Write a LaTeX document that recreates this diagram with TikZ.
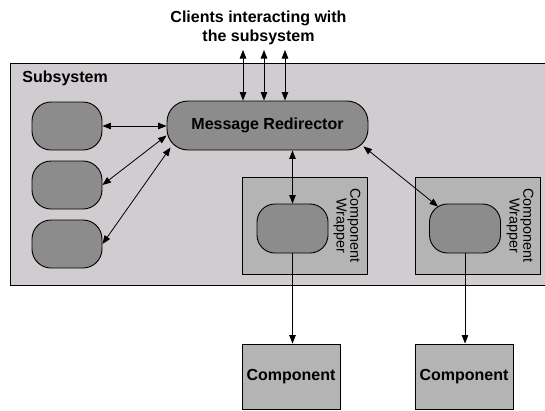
\documentclass[tikz,border=0pt]{standalone}
\usepackage{fontspec}
\setmainfont{Liberation Sans}
\usepackage{tikz}
\usetikzlibrary{arrows.meta}
\definecolor{subfill}{HTML}{D0CCD0}
\definecolor{wrapfill}{HTML}{B4B4B4}
\definecolor{pillfill}{HTML}{8C8C8C}
\begin{document}
\begin{tikzpicture}[x=1pt, y=-1pt, line width=0.9pt,
pill/.style={draw, fill=pillfill, rounded corners=19pt, inner sep=0pt, minimum width=70pt, minimum height=48pt},
wrapper/.style={draw, fill=wrapfill, inner sep=0pt, minimum width=125pt, minimum height=97pt},
compbox/.style={draw, fill=wrapfill, inner sep=0pt, minimum width=98pt, minimum height=65pt, font=\fontsize{16}{19}\selectfont\bfseries},
wraplabel/.style={rotate=-90, align=center, inner sep=0pt, font=\fontsize{14.4}{11}\selectfont},
link/.style={line width=0.8pt, {Triangle[length=8.5pt,width=6.5pt]}-{Triangle[length=8.5pt,width=6.5pt]}},
feed/.style={line width=0.8pt, -{Triangle[length=8.5pt,width=6.5pt]}}]
\useasboundingbox (0,0) rectangle (545,410);
\node[draw, fill=subfill, inner sep=0pt, minimum width=537pt, minimum height=222pt] (sub) at (278.5,174) {};
\node[anchor=base west, inner sep=0pt, font=\fontsize{16}{19}\selectfont\bfseries] (sublabel) at (22,82) {Subsystem};
\node[align=center, anchor=north, inner sep=0pt, font=\fontsize{16}{19.5}\selectfont\bfseries] (clients) at (258.5,10) {Clients interacting with\\the subsystem};
% redirector and local nodes
\node[pill, minimum width=201pt, minimum height=49pt, rounded corners=21pt, font=\fontsize{16}{19}\selectfont\bfseries] (redir) at (267.5,125.5) {Message Redirector};
\node[pill] (loc1) at (67,126) {};
\node[pill] (loc2) at (67,185) {};
\node[pill] (loc3) at (67,244) {};
% wrapped components
\node[wrapper] (wrap1) at (304.5,225.5) {};
\node[wrapper] (wrap2) at (477.5,225.5) {};
\node[pill, minimum width=71pt, minimum height=49pt, rounded corners=18pt] (inner1) at (292.5,228.5) {};
\node[pill, minimum width=71pt, minimum height=49pt, rounded corners=18pt] (inner2) at (465,228.5) {};
\node[wraplabel] (wlab1) at (347,225.5) {Component\\Wrapper};
\node[wraplabel] (wlab2) at (520,225.5) {Component\\Wrapper};
\node[compbox] (comp1) at (291,376.5) {Component};
\node[compbox] (comp2) at (464,376.5) {Component};
% connectors
\foreach \x [count=\i] in {243,264,285}
  \coordinate (cl\i) at (\x,50);
\foreach \i in {1,2,3}
  \draw[link] (cl\i) -- (cl\i |- redir.north);
\draw[link] (loc1.east) -- (loc1.east -| redir.west);
\draw[link] (loc2.east) -- ([shift={(0,10)}]redir.west);
\draw[link] (loc3.east) -- ([shift={(4,22)}]redir.west);
\draw[link] (inner1.north |- redir.south) -- (inner1.north);
\draw[link] ([shift={(-5,-4)}]redir.south east) -- ([shift={(9,3)}]inner2.north west);
\draw[feed] (inner1.south) -- (inner1.south |- comp1.north);
\draw[feed] (inner2.south) -- (inner2.south |- comp2.north);
\end{tikzpicture}
\end{document}
